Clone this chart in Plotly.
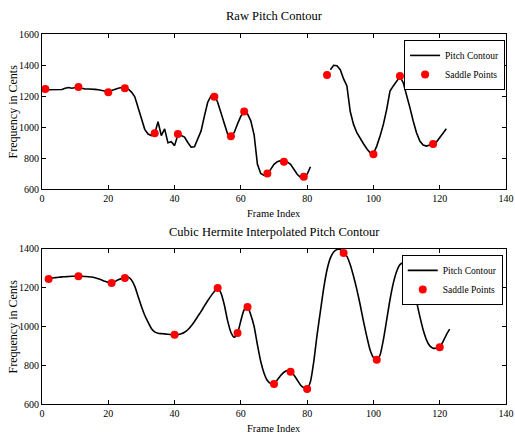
import plotly.graph_objects as go

# ---------------- data ----------------
raw_frames = list(range(1, 82)) + [None] + list(range(87, 123))
raw_pitch = [1240, 1240, 1240, 1240, 1240, 1242, 1250, 1255, 1250, 1252,
             1258, 1250, 1245, 1245, 1245, 1243, 1240, 1235, 1230, 1228,
             1235, 1245, 1250, 1255, 1255, 1245, 1225, 1195, 1130, 1050,
             985, 955, 945, 955, 1035, 945, 988, 898, 905, 880,
             950, 945, 935, 900, 870, 872, 920, 975, 1070, 1160,
             1200, 1205, 1160, 1090, 1010, 955, 940, 965, 1020, 1070,
             1100, 1085, 1040, 950, 760, 700, 688, 695, 727, 759,
             776, 783, 780, 775, 759, 727, 695, 675, 678, 695,
             744,
             None,
             1370, 1398, 1395, 1370, 1310, 1265, 1100, 1017, 963, 925,
             892, 860, 834, 828, 877, 942, 1017, 1114, 1232, 1265,
             1297, 1325, 1286, 1211, 1125, 1039, 963, 910, 884, 877,
             882, 890, 903, 931, 963, 989]

raw_saddle_x = [1, 11, 20, 25, 34, 41, 52, 57, 61, 68, 73, 79, 86, 100, 108, 118]
raw_saddle_y = [1245, 1258, 1225, 1250, 960, 955, 1195, 940, 1100, 700, 776, 680,
                1335, 825, 1329, 890]

interp_frames = list(range(1, 124))
interp_pitch = [1245, 1247, 1250, 1252, 1254, 1256, 1257, 1258, 1259, 1259,
                1259, 1259, 1258, 1257, 1255, 1251, 1246, 1240, 1233, 1227,
                1224, 1232, 1241, 1247, 1250, 1255, 1240, 1207, 1155, 1103,
                1058, 1022, 990, 972, 965, 963, 962, 960, 958, 957,
                958, 962, 970, 983, 1002, 1026, 1052, 1078, 1106, 1133,
                1158, 1181, 1198, 1172, 1112, 1030, 970, 945, 966, 1030,
                1086, 1100, 1060, 1000, 905, 819, 759, 721, 705, 703,
                724, 747, 764, 772, 767, 750, 724, 698, 684, 678,
                716, 819, 957, 1078, 1198, 1293, 1353, 1384, 1397, 1397,
                1379, 1362, 1319, 1259, 1190, 1112, 1026, 948, 879, 840,
                828, 853, 931, 1034, 1138, 1224, 1284, 1319, 1328, 1316,
                1276, 1207, 1129, 1052, 983, 931, 900, 888, 888, 893,
                922, 957, 986]

interp_saddle_x = [2, 11, 21, 25, 40, 53, 59, 62, 70, 75, 80, 91, 101, 110, 120]
interp_saddle_y = [1245, 1259, 1224, 1250, 957, 1198, 966, 1100, 703, 767, 678,
                   1379, 828, 1316, 893]

x_ticks = [0, 20, 40, 60, 80, 100, 120, 140]
y_ticks_top = [600, 800, 1000, 1200, 1400, 1600]
y_ticks_bottom = [600, 800, 1000, 1200, 1400]

FONT = "Liberation Serif"

fig = go.Figure()
fig.add_trace(go.Scatter(x=raw_frames, y=raw_pitch, mode="lines", name="Pitch Contour",
                         line=dict(color="black", width=1.6), xaxis="x", yaxis="y",
                         legend="legend", connectgaps=False))
fig.add_trace(go.Scatter(x=raw_saddle_x, y=raw_saddle_y, mode="markers", name="Saddle Points",
                         marker=dict(color="#ff0000", size=8), xaxis="x", yaxis="y",
                         legend="legend"))
fig.add_trace(go.Scatter(x=interp_frames, y=interp_pitch, mode="lines", name="Pitch Contour",
                         line=dict(color="black", width=1.6, shape="spline", smoothing=0.6),
                         xaxis="x2", yaxis="y2", legend="legend2"))
fig.add_trace(go.Scatter(x=interp_saddle_x, y=interp_saddle_y, mode="markers", name="Saddle Points",
                         marker=dict(color="#ff0000", size=8), xaxis="x2", yaxis="y2",
                         legend="legend2"))

axis_common = dict(showline=True, linecolor="black", linewidth=1.2, mirror="ticks",
                   ticks="inside", ticklen=4, tickcolor="black", showgrid=False,
                   zeroline=False, automargin=False,
                   tickfont=dict(family=FONT, size=10, color="black"))

legend_common = dict(xanchor="right", yanchor="top", bgcolor="white",
                     bordercolor="black", borderwidth=1,
                     font=dict(family=FONT, size=9.5, color="black"),
                     tracegroupgap=0, itemwidth=30, entrywidth=82)

fig.update_layout(
    width=515, height=434,
    margin=dict(l=42, r=9, t=34, b=30, autoexpand=False),
    plot_bgcolor="white", paper_bgcolor="white",
    font=dict(family=FONT, color="black"),
    xaxis=dict(domain=[0, 1], range=[0, 140], tickvals=x_ticks, anchor="y", **axis_common),
    yaxis=dict(domain=[0.581, 1], range=[600, 1600], tickvals=y_ticks_top, anchor="x", **axis_common),
    xaxis2=dict(domain=[0, 1], range=[0, 140], tickvals=x_ticks, anchor="y2", **axis_common),
    yaxis2=dict(domain=[0, 0.419], range=[600, 1400], tickvals=y_ticks_bottom, anchor="x2", **axis_common),
    legend=dict(x=0.998, y=0.984, **legend_common),
    legend2=dict(x=0.993, y=0.403, **legend_common),
    annotations=[
        dict(text="Raw Pitch Contour", xref="paper", yref="paper", x=0.5, y=1.0486,
             showarrow=False, font=dict(family=FONT, size=12.5), xanchor="center", yanchor="middle"),
        dict(text="Cubic Hermite Interpolated Pitch Contour", xref="paper", yref="paper",
             x=0.5, y=0.4649, showarrow=False, font=dict(family=FONT, size=12.5),
             xanchor="center", yanchor="middle"),
        dict(text="Frame Index", xref="paper", yref="paper", x=0.5, y=0.516,
             showarrow=False, font=dict(family=FONT, size=10.5), xanchor="center", yanchor="middle"),
        dict(text="Frame Index", xref="paper", yref="paper", x=0.5, y=-0.0649,
             showarrow=False, font=dict(family=FONT, size=10.5), xanchor="center", yanchor="middle"),
        dict(text="Frequency in Cents", xref="paper", yref="paper", x=-0.0625, y=0.7905,
             textangle=-90, showarrow=False, font=dict(family=FONT, size=12),
             xanchor="center", yanchor="middle"),
        dict(text="Frequency in Cents", xref="paper", yref="paper", x=-0.0625, y=0.2095,
             textangle=-90, showarrow=False, font=dict(family=FONT, size=12),
             xanchor="center", yanchor="middle"),
    ],
)

fig.write_html("out.html", config={"displayModeBar": False},
               post_script="document.body.style.margin='0';")
